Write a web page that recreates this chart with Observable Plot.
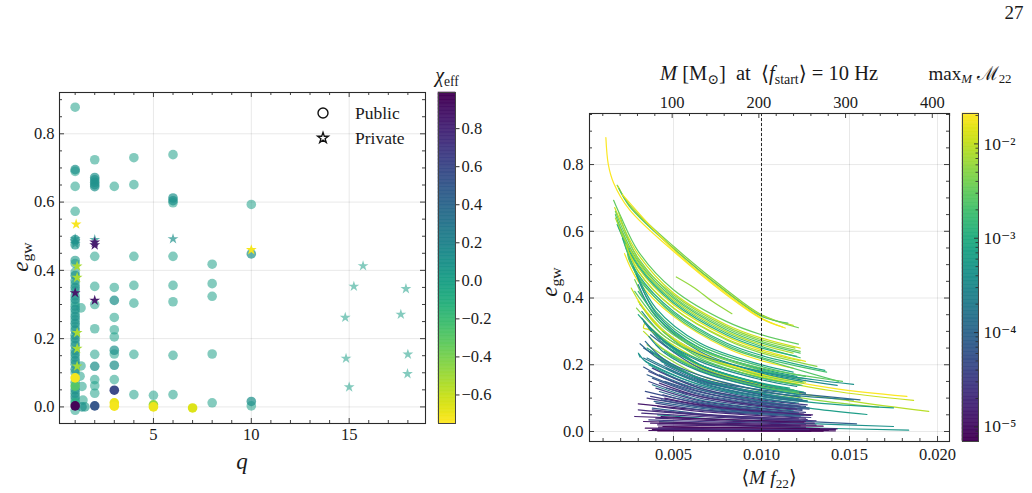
<!DOCTYPE html>
<html><head><meta charset="utf-8">
<script src="https://cdn.jsdelivr.net/npm/d3@7"></script>
<script src="https://cdn.jsdelivr.net/npm/@observablehq/plot@0.6"></script>
<style>
body{margin:0;background:#fff;}
#fig{position:relative;width:1032px;height:493px;overflow:hidden;font-family:"Liberation Serif","DejaVu Serif",serif;color:#1a1a1a;background:#fff;}
.abs{position:absolute;}
.pl svg text{font-family:"Liberation Serif","DejaVu Serif",serif !important;font-size:16.5px !important;}
.pl.big svg text{font-size:17.5px !important;}
.lbl{position:absolute;white-space:nowrap;line-height:1;transform:translate(-50%,-50%);}
.lbl sub{font-size:0.68em;vertical-align:-0.28em;line-height:0;}
</style></head><body><div id="fig"></div>
<script>
// ---------------- DATA: left panel (q, e_gw, chi_eff) ----------------
const publicQ   = [1,1,1,1,1,1,1,1,1,1,1,1,1,1,1,1,1,1,1,1,1,1,1,1,1,1,1,1,1,1,1,1,1,1,1,1,1,1,1,1,1,1,1,1,1,1,1,1.3,1.35,1.4,1.5,1.25,1.3,1.35,
  2,2,2,2,2,2,2,2,2,2,2,2,2,2,2,2,
  3,3,3,3,3,3,3,3,3,3,3,3,3,
  4,4,4,4,4,4,4,
  5,5,5,
  6,6,6,6,6,6,6,6,6,
  7,
  8,8,8,8,8,
  10,10,10,10];
const publicE   = [0.878,0.695,0.69,0.646,0.573,0.49,0.475,0.429,0.42,0.395,0.385,0.37,0.36,0.35,0.34,0.325,0.315,0.305,0.295,0.285,0.275,0.265,0.255,0.245,0.235,0.225,0.21,0.2,0.19,0.18,0.165,0.155,0.145,0.135,0.125,0.11,0.1,0.085,0.072,0.061,0.05,0.04,0.03,0.02,0.012,0.003,-0.01,0.29,0.06,0.02,0.0,0.09,0.12,0.0,
  0.724,0.672,0.665,0.658,0.651,0.645,0.441,0.353,0.30,0.229,0.154,0.119,0.08,0.062,0.04,0.003,
  0.646,0.35,0.312,0.262,0.226,0.205,0.166,0.155,0.122,0.08,0.049,0.012,0.002,
  0.73,0.651,0.441,0.356,0.304,0.154,0.036,
  0.034,0.0,0.006,
  0.739,0.612,0.604,0.598,0.441,0.356,0.308,0.151,0.036,
  -0.003,
  0.418,0.361,0.324,0.155,0.012,
  0.593,0.448,0.016,0.003];
const publicChi = [0,0.1,0,0,0,0.1,0.08,0.05,0,0,0.1,0.05,0,0.1,0,0.05,0.1,0,0.05,0.1,0,0.1,0.05,0.1,0,0.1,0.05,0.1,0,0.1,0.05,0.1,0,0.1,0.05,0.1,0,-0.72,0.05,-0.28,0.1,0.05,0.1,0,-0.1,0.97,0,0,0,0,0.05,0,0,0.1,
  0,0.1,0.1,0.1,0.1,0.1,0,0,0,0,0,0.12,0,0,0,0.52,
  0,0,0.12,0,0,0,0.1,0,0.12,0,0.6,-0.7,-0.72,
  0,0,0,0,0,0,0,
  0,-0.7,-0.45,
  0,0.1,0.1,0,0,0,0,0,0,
  -0.66,
  0,0,0,0,0,
  0,0.1,0.12,0];
const privateQ   = [1.05,1,1,1,1.1,1.1,1,1.1,1.1,1.1,2,2,2,2,6,10,15.71,15.24,17.9,14.8,17.64,14.84,18.0,17.98,15.0];
const privateE   = [0.535,0.492,0.485,0.478,0.412,0.379,0.334,0.217,0.171,0.119,0.49,0.482,0.474,0.312,0.492,0.46,0.413,0.353,0.346,0.262,0.271,0.142,0.154,0.097,0.058];
const privateChi = [-0.73,0.1,0.1,0.08,-0.52,-0.52,0.88,-0.52,-0.52,-0.5,0.1,0.85,0.85,0.87,0.1,-0.72,0,0,0,0,0,0,0,0,0];
const chiTicks = [-0.6,-0.4,-0.2,0,0.2,0.4,0.6,0.8];
const chiDomain = [-0.75, 0.99];

// ---------------- DATA: right panel (<M f22>, e_gw) tracks ----------------
const tracks = [
 [[0.00116,0.881],[0.0013,0.80],[0.0016,0.745],[0.0025,0.665],[0.005,0.54],[0.008,0.41],[0.01,0.338],[0.0112,0.313]],
 [[0.0018,0.738],[0.0025,0.68],[0.005,0.555],[0.008,0.425],[0.01,0.35],[0.0121,0.311]],
 [[0.00185,0.735],[0.0025,0.678],[0.005,0.55],[0.008,0.42],[0.01,0.348],[0.0118,0.318]],
 [[0.0019,0.728],[0.0025,0.675],[0.005,0.548],[0.008,0.418],[0.01,0.345],[0.0115,0.325]],
 [[0.0021,0.71],[0.005,0.545],[0.008,0.414],[0.01,0.34],[0.01135,0.31]],
 [[0.00516,0.463],[0.0062,0.43],[0.0072,0.39],[0.00832,0.353]],
 [[0.0016,0.693],[0.002,0.645],[0.003,0.54],[0.005,0.425],[0.008,0.33],[0.01,0.29],[0.0121,0.262]],
 [[0.00166,0.671],[0.002,0.63],[0.003,0.53],[0.005,0.415],[0.008,0.32],[0.01,0.28],[0.0122,0.25]],
 [[0.0017,0.66],[0.002,0.62],[0.003,0.52],[0.005,0.405],[0.008,0.31],[0.01,0.27],[0.0122,0.24]],
 [[0.0017,0.65],[0.002,0.61],[0.003,0.51],[0.005,0.4],[0.008,0.305],[0.01,0.265],[0.0122,0.235]],
 [[0.0018,0.63],[0.003,0.5],[0.005,0.39],[0.008,0.295],[0.01,0.255],[0.0122,0.221]],
 [[0.0017,0.64],[0.003,0.505],[0.005,0.395],[0.008,0.3],[0.01,0.26],[0.0118,0.235]],
 [[0.0019,0.61],[0.003,0.49],[0.005,0.38],[0.008,0.285],[0.01,0.245],[0.0125,0.21]],
 [[0.0018,0.62],[0.003,0.495],[0.005,0.385],[0.008,0.29],[0.01,0.25],[0.012,0.225]],
 [[0.002,0.6],[0.003,0.48],[0.005,0.37],[0.008,0.275],[0.01,0.235],[0.01315,0.195]],
 [[0.0021,0.58],[0.003,0.47],[0.005,0.36],[0.008,0.265],[0.01,0.228],[0.0136,0.183]],
 [[0.0019,0.655],[0.003,0.515],[0.005,0.41],[0.008,0.315],[0.01,0.275],[0.0119,0.25]],
 [[0.0022,0.57],[0.003,0.46],[0.005,0.355],[0.008,0.26],[0.01,0.222],[0.0137,0.178]],
 [[0.00222,0.533],[0.003,0.45],[0.005,0.345],[0.008,0.25],[0.01,0.212],[0.0118,0.19]],
 [[0.0025,0.548],[0.0024,0.53],[0.003,0.465],[0.005,0.35],[0.008,0.255],[0.01,0.218],[0.01438,0.15]],
 [[0.0023,0.56],[0.003,0.48],[0.005,0.37],[0.008,0.278],[0.01,0.24],[0.0122,0.212]],
 [[0.0027,0.495],[0.004,0.37],[0.0065,0.265],[0.01,0.2],[0.0118,0.178]],
 [[0.0028,0.48],[0.004,0.36],[0.0065,0.258],[0.01,0.195],[0.0125,0.165]],
 [[0.0029,0.47],[0.004,0.355],[0.0065,0.25],[0.01,0.188],[0.012,0.165]],
 [[0.0028,0.455],[0.004,0.345],[0.0065,0.245],[0.01,0.183],[0.0122,0.158]],
 [[0.003,0.44],[0.004,0.345],[0.0065,0.24],[0.01,0.178],[0.0143,0.138]],
 [[0.0026,0.43],[0.004,0.32],[0.0065,0.23],[0.01,0.172],[0.0125,0.148]],
 [[0.0031,0.381],[0.0045,0.3],[0.0065,0.235],[0.01,0.175],[0.0123,0.15]],
 [[0.0034,0.328],[0.0033,0.31],[0.0036,0.305],[0.0065,0.215],[0.01,0.163],[0.0121,0.142]],
 [[0.003,0.42],[0.0045,0.32],[0.0065,0.25],[0.01,0.185],[0.0125,0.158]],
 [[0.0029,0.40],[0.0045,0.3],[0.0065,0.235],[0.01,0.17],[0.014,0.13],[0.01826,0.105]],
 [[0.003,0.39],[0.0045,0.295],[0.0065,0.23],[0.01,0.165],[0.014,0.122],[0.01864,0.093]],
 [[0.0033,0.30],[0.0045,0.245],[0.0065,0.19],[0.01,0.135],[0.015,0.092],[0.0195,0.06]],
 [[0.0035,0.26],[0.0065,0.168],[0.01,0.122],[0.013,0.095],[0.01665,0.073]],
 [[0.0036,0.2],[0.0065,0.13],[0.01,0.092],[0.013,0.068],[0.01599,0.051]],
 [[0.0042,0.03],[0.008,0.02],[0.012,0.012],[0.01836,0.004]],
 [[0.0041,0.05],[0.008,0.035],[0.012,0.025],[0.0175,0.015]],
 [[0.0038,0.07],[0.008,0.045],[0.012,0.032],[0.0154,0.023]],
 [[0.0032,0.36],[0.0045,0.285],[0.0065,0.23],[0.01,0.18],[0.013,0.155],[0.01523,0.141]],
 [[0.0035,0.22],[0.0065,0.15],[0.01,0.118],[0.013,0.103],[0.01523,0.095]],
 [[0.0034,0.21],[0.0065,0.14],[0.01,0.105],[0.014,0.082],[0.0175,0.071]],
 [[0.0033,0.25],[0.0065,0.16],[0.01,0.125],[0.013,0.108],[0.0156,0.095]],
 [[0.0028,0.42],[0.0045,0.31],[0.0065,0.245],[0.01,0.19],[0.0146,0.15]],
 [[0.0033,0.33],[0.0045,0.26],[0.0065,0.2],[0.01,0.143],[0.012,0.122]],
 [[0.0035,0.32],[0.0065,0.2],[0.01,0.143],[0.0118,0.125]],
 [[0.0036,0.31],[0.0065,0.195],[0.01,0.14],[0.0125,0.115]],
 [[0.0038,0.30],[0.0065,0.195],[0.01,0.14],[0.0122,0.117]],
 [[0.004,0.29],[0.0065,0.2],[0.01,0.143],[0.012,0.122]],
 [[0.0042,0.28],[0.0065,0.2],[0.01,0.143],[0.0115,0.127]],
 [[0.0044,0.27],[0.0065,0.2],[0.01,0.143],[0.0124,0.118]],
 [[0.0031,0.263],[0.0045,0.205],[0.0065,0.16],[0.01,0.115],[0.0123,0.096]],
 [[0.0031,0.223],[0.003,0.235],[0.0033,0.215],[0.0045,0.18],[0.0065,0.14],[0.01,0.1],[0.0121,0.085]],
 [[0.0033,0.193],[0.0045,0.16],[0.0065,0.125],[0.01,0.09],[0.0125,0.075]],
 [[0.0035,0.17],[0.0065,0.113],[0.01,0.082],[0.0119,0.07]],
 [[0.0035,0.25],[0.0065,0.158],[0.01,0.113],[0.012,0.097]],
 [[0.0037,0.24],[0.0065,0.156],[0.01,0.112],[0.0122,0.095]],
 [[0.0039,0.23],[0.0065,0.158],[0.01,0.113],[0.0118,0.1]],
 [[0.0041,0.22],[0.0065,0.157],[0.01,0.112],[0.0126,0.092]],
 [[0.0043,0.21],[0.0065,0.158],[0.01,0.113],[0.0121,0.097]],
 [[0.0045,0.2],[0.0065,0.153],[0.01,0.11],[0.0124,0.092]],
 [[0.0036,0.15],[0.0065,0.1],[0.01,0.074],[0.0123,0.063]],
 [[0.0038,0.14],[0.0065,0.095],[0.01,0.07],[0.0118,0.062]],
 [[0.004,0.13],[0.0065,0.092],[0.01,0.068],[0.0125,0.057]],
 [[0.0042,0.12],[0.0065,0.088],[0.01,0.065],[0.0121,0.056]],
 [[0.0044,0.11],[0.0065,0.083],[0.01,0.062],[0.0124,0.052]],
 [[0.003,0.083],[0.0065,0.065],[0.01,0.054],[0.0128,0.048]],
 [[0.0028,0.045],[0.0065,0.038],[0.01,0.033],[0.0125,0.03]],
 [[0.0034,0.01],[0.0065,0.009],[0.01,0.007],[0.0142,0.006]],
 [[0.00415,0.013],[0.0065,0.012],[0.01,0.01],[0.0143,0.008]],
 [[0.0035,0.1],[0.0065,0.075],[0.01,0.057],[0.0122,0.05]],
 [[0.0038,0.065],[0.0065,0.052],[0.01,0.042],[0.0126,0.036]],
 [[0.004,0.04],[0.0065,0.034],[0.01,0.028],[0.013,0.025]],
 [[0.0042,0.025],[0.0065,0.022],[0.01,0.018],[0.0135,0.016]],
 [[0.0045,0.005],[0.0065,0.004],[0.01,0.003],[0.0142,0.002]],
 [[0.0036,0.035],[0.0065,0.03],[0.01,0.025],[0.0125,0.022]],
 [[0.0032,0.055],[0.0065,0.045],[0.01,0.037],[0.0122,0.033]],
 [[0.004,0.085],[0.0065,0.065],[0.01,0.05],[0.0128,0.042]],
 [[0.0043,0.095],[0.0065,0.074],[0.01,0.056],[0.0124,0.048]],
 [[0.0045,0.06],[0.0065,0.05],[0.01,0.039],[0.0131,0.032]],
 [[0.0036,0.003],[0.008,0.002],[0.0128,0.001]],
 [[0.0041,0.02],[0.008,0.017],[0.0125,0.013]],
 [[0.0038,0.006],[0.008,0.005],[0.0138,0.003]],
 [[0.0045,0.15],[0.0065,0.118],[0.01,0.085],[0.0127,0.07]],
 [[0.0045,0.24],[0.0065,0.183],[0.01,0.13],[0.0122,0.11]],
 [[0.0042,0.17],[0.0065,0.125],[0.01,0.09],[0.012,0.078]],
 [[0.0038,0.19],[0.0065,0.13],[0.01,0.095],[0.0126,0.08]],
 [[0.004,0.26],[0.0065,0.185],[0.01,0.133],[0.0121,0.115]],
 [[0.003,0.35],[0.0045,0.27],[0.0065,0.215],[0.01,0.16],[0.0122,0.138]],
 [[0.0032,0.34],[0.0045,0.27],[0.0065,0.21],[0.01,0.155],[0.012,0.135]],
 [[0.0029,0.37],[0.0045,0.285],[0.0065,0.225],[0.01,0.168],[0.0124,0.145]],
 [[0.0034,0.12],[0.0065,0.085],[0.01,0.063],[0.0121,0.055]],
 [[0.0037,0.105],[0.0065,0.078],[0.01,0.06],[0.0127,0.05]],
 [[0.0039,0.09],[0.0065,0.07],[0.01,0.053],[0.0122,0.046]],
 [[0.0041,0.075],[0.0065,0.06],[0.01,0.047],[0.0125,0.04]],
 [[0.0043,0.045],[0.0065,0.039],[0.01,0.032],[0.0124,0.028]],
 [[0.0044,0.015],[0.0065,0.013],[0.01,0.011],[0.0133,0.009]],
 [[0.004,0.008],[0.0065,0.007],[0.01,0.006],[0.0127,0.005]],
 [[0.0037,0.025],[0.0065,0.022],[0.01,0.019],[0.0122,0.017]],
 [[0.0046,0.13],[0.0065,0.105],[0.01,0.077],[0.0123,0.066]],
 [[0.0046,0.17],[0.0065,0.135],[0.01,0.098],[0.0119,0.086]],
 [[0.0046,0.19],[0.0065,0.148],[0.01,0.106],[0.0126,0.09]],
 [[0.0034,0.27],[0.0045,0.215],[0.0065,0.168],[0.01,0.122],[0.0122,0.104]],
 [[0.0036,0.285],[0.0045,0.235],[0.0065,0.18],[0.01,0.13],[0.0119,0.113]],
 [[0.0037,0.29],[0.0065,0.19],[0.01,0.137],[0.0125,0.115]],
 [[0.0033,0.22],[0.0065,0.145],[0.01,0.105],[0.0124,0.09]],
 [[0.0036,0.18],[0.0065,0.12],[0.01,0.087],[0.0122,0.075]],
 [[0.0038,0.16],[0.0065,0.11],[0.01,0.08],[0.0127,0.067]],
 [[0.0042,0.145],[0.0065,0.105],[0.01,0.077],[0.012,0.067]],
 [[0.0045,0.1],[0.0065,0.08],[0.01,0.06],[0.0129,0.05]],
 [[0.003,0.065],[0.0065,0.05],[0.01,0.042],[0.0121,0.038]],
 [[0.0033,0.03],[0.0065,0.026],[0.01,0.022],[0.0131,0.019]],
 [[0.0041,0.002],[0.008,0.0015],[0.0135,0.001]],
 [[0.0047,0.23],[0.0065,0.185],[0.01,0.135],[0.0121,0.118]],
 [[0.0047,0.25],[0.0065,0.2],[0.01,0.145],[0.0116,0.13]],
 [[0.0044,0.3],[0.0065,0.22],[0.01,0.16],[0.0123,0.138]]
];
const trackMismatch = [
 0.02,0.004,0.01,0.0025,0.018,0.006,
 0.003,0.012,0.004,0.0025,0.002,0.008,0.015,0.0012,0.005,0.0009,0.006,0.002,0.018,0.0025,0.01,
 0.0007,0.002,0.0004,0.004,0.0003,0.01,0.0005,0.012,0.0015,
 0.02,0.011,0.009,0.006,0.0006,0.0005,0.0004,0.00008,0.0004,0.0002,0.0006,0.0001,0.003,
 0.0002,0.003,0.0006,0.008,0.0015,0.0003,0.001,0.0001,0.0004,0.00006,0.00008,0.0008,0.0002,0.002,0.00015,0.0004,0.0001,
 0.00004,0.0002,0.00003,0.0001,0.00002,0.000012,0.000015,0.00001,0.000012,0.000025,0.00002,0.000015,0.000008,0.00001,0.00003,0.00002,0.00004,0.00006,0.000025,
 0.00001,0.000015,0.000009,0.00007,0.0005,0.00012,0.00003,0.004,
 0.0009,0.0003,0.005,
 0.00005,0.00003,0.00009,0.000018,0.00001,0.000008,0.00002,0.000012,0.00005,0.0001,0.00025,
 0.00012,0.0003,0.0001,0.00015,0.00004,0.00006,0.00002,0.000015,0.00002,0.000012,0.000007,
 0.002,0.0007,0.0025
];
const m22Domain = [7e-6, 0.021];
const m22Ticks = [1e-5, 1e-4, 1e-3, 1e-2];
const massTicks = [100, 200, 300, 400];           // top axis, M in solar masses
const fStart = 10;                                 // Hz
const dashedX = [0.01];

// ---------------- helpers ----------------
const FONT = "'Liberation Serif', 'DejaVu Serif', serif";
const MSUN_S = 4.925491e-6;                        // G Msun / c^3 in s
const fig = document.getElementById("fig");
function place(el, left, top, big) {
  const d = document.createElement("div");
  d.className = "abs pl" + (big ? " big" : ""); d.style.left = left + "px"; d.style.top = top + "px";
  d.appendChild(el); fig.appendChild(d);
}
function label(html, cx, cy, size, extra) {
  const d = document.createElement("div");
  d.className = "lbl"; d.innerHTML = html;
  d.style.left = cx + "px"; d.style.top = cy + "px"; d.style.fontSize = size + "px";
  if (extra) d.style.transform = extra;
  fig.appendChild(d);
}
const TK = "#2a2a2a";
function inTicks(vals, side, len, fw, fh) {
  const o = {stroke: TK, strokeWidth: 0.9};
  if (side === "bottom") return Plot.ruleX(vals, {...o, insetTop: fh - len});
  if (side === "top") return Plot.ruleX(vals, {...o, insetBottom: fh - len});
  if (side === "left") return Plot.ruleY(vals, {...o, insetRight: fw - len});
  return Plot.ruleY(vals, {...o, insetLeft: fw - len});
}
const txt = {label: null, fill: "#1a1a1a"};
const f1 = d3.format(".1f");
const baseStyle = "font-family:" + FONT + ";font-size:16.5px;background:transparent;color:#1a1a1a;overflow:visible;max-width:none;";

// ---------------- left panel ----------------
const pub = publicQ.map((q, i) => ({q, e: publicE[i], chi: publicChi[i]}));
const pri = privateQ.map((q, i) => ({q, e: privateE[i], chi: privateChi[i]}));
const opac = d => Math.min(1, 0.55 + 1.5 * Math.abs(d.chi));
const LW = 440, LH = 493, LM = {l: 59, r: 15, t: 92, b: 70};
const lfw = LW - LM.l - LM.r, lfh = LH - LM.t - LM.b;
const qMajor = [5, 10, 15], qMinor = d3.range(1, 19).filter(v => v % 5);
const eMajor = [0, 0.2, 0.4, 0.6, 0.8];
const eMinorL = d3.range(0, 19).map(i => i * 0.05).filter((v, i) => i % 4);
const leftPlot = Plot.plot({
  width: LW, height: LH, marginLeft: LM.l, marginRight: LM.r, marginTop: LM.t, marginBottom: LM.b,
  style: baseStyle,
  x: {domain: [0.2, 18.9], axis: null},
  y: {domain: [-0.0486, 0.921], axis: null},
  color: {type: "linear", scheme: "viridis", reverse: true, domain: chiDomain},
  marks: [
    Plot.gridX(qMajor, {stroke: "#000", strokeOpacity: 0.09}),
    Plot.gridY(eMajor, {stroke: "#000", strokeOpacity: 0.09}),
    Plot.dot(pub, {x: "q", y: "e", fill: "chi", fillOpacity: opac, r: 4.8, symbol: "circle", sort: d => Math.abs(d.chi)}),
    Plot.dot(pri, {x: "q", y: "e", fill: "chi", fillOpacity: opac, r: 3.4, symbol: "star", sort: d => Math.abs(d.chi)}),
    inTicks(qMajor, "bottom", 5, lfw, lfh), inTicks(qMinor, "bottom", 3, lfw, lfh),
    inTicks(qMajor, "top", 5, lfw, lfh), inTicks(qMinor, "top", 3, lfw, lfh),
    inTicks(eMajor, "left", 5, lfw, lfh), inTicks(eMinorL, "left", 3, lfw, lfh),
    inTicks(eMajor, "right", 5, lfw, lfh), inTicks(eMinorL, "right", 3, lfw, lfh),
    Plot.frame({stroke: "#2a2a2a", strokeWidth: 1.1}),
    Plot.axisX(qMajor, {...txt, anchor: "bottom", tickSize: 0, tickPadding: 5, tickFormat: d => String(d)}),
    Plot.axisY(eMajor, {...txt, anchor: "left", tickSize: 0, tickPadding: 5, tickFormat: f1})
  ]
});
place(leftPlot, 0, 0);

// left colorbar
const chiSlices = d3.range(240).map(i => {
  const a = chiDomain[0] + (chiDomain[1] - chiDomain[0]) * i / 240;
  const b = chiDomain[0] + (chiDomain[1] - chiDomain[0]) * (i + 1) / 240;
  return {a, b, m: (a + b) / 2};
});
const cbL = Plot.plot({
  width: 80, height: 493, marginLeft: 8, marginRight: 55, marginTop: 92, marginBottom: 70,
  style: baseStyle,
  y: {domain: chiDomain, axis: null},
  color: {type: "linear", scheme: "viridis", reverse: true, domain: chiDomain},
  marks: [
    Plot.rect(chiSlices, {y1: "a", y2: "b", fill: "m", stroke: "m", strokeWidth: 0.6}),
    Plot.frame({stroke: "#444", strokeWidth: 1}),
    Plot.axisY(chiTicks, {...txt, anchor: "right", tickSize: 3.5, tickPadding: 2.5, tickFormat: f1, stroke: TK})
  ]
});
place(cbL, 430, 0);

// ---------------- right panel ----------------
const rows = [];
tracks.forEach((pts, i) => pts.forEach(([x, e]) => rows.push({id: i, x, e, m: trackMismatch[i]})));
const RW = 440, RH = 493, RM = {l: 69, r: 11, t: 113, b: 52};
const rfw = RW - RM.l - RM.r, rfh = RH - RM.t - RM.b;
const xMajorR = [0.005, 0.01, 0.015, 0.02];
const xMinorR = d3.range(1, 21).filter(i => i % 5).map(i => i / 1000);
const mToX = m => m * MSUN_S * fStart;
const topMajor = massTicks.map(mToX);
const topMinor = d3.range(1, 22).filter(i => i % 5).map(i => mToX(i * 20));
const eMinorR = d3.range(0, 20).map(i => i * 0.05).filter((v, i) => i % 4);
const rightPlot = Plot.plot({
  width: RW, height: RH, marginLeft: RM.l, marginRight: RM.r, marginTop: RM.t, marginBottom: RM.b,
  style: baseStyle,
  x: {domain: [0.00023, 0.02068], axis: null},
  y: {domain: [-0.03, 0.953], axis: null},
  color: {type: "log", scheme: "viridis", domain: m22Domain},
  marks: [
    Plot.gridX(xMajorR, {stroke: "#000", strokeOpacity: 0.09}),
    Plot.gridY(eMajor, {stroke: "#000", strokeOpacity: 0.09}),
    Plot.line(rows, {x: "x", y: "e", z: "id", stroke: "m", strokeWidth: 1.2, curve: "catmull-rom"}),
    Plot.ruleX(dashedX, {stroke: "#111", strokeWidth: 0.9, strokeDasharray: "3,2"}),
    inTicks(xMajorR, "bottom", 5, rfw, rfh), inTicks(xMinorR, "bottom", 3, rfw, rfh),
    inTicks(topMajor, "top", 5, rfw, rfh), inTicks(topMinor, "top", 3, rfw, rfh),
    inTicks(eMajor, "left", 5, rfw, rfh), inTicks(eMinorR, "left", 3, rfw, rfh),
    inTicks(eMajor, "right", 5, rfw, rfh), inTicks(eMinorR, "right", 3, rfw, rfh),
    Plot.frame({stroke: "#2a2a2a", strokeWidth: 1.1}),
    Plot.axisX(xMajorR, {...txt, anchor: "bottom", tickSize: 0, tickPadding: 7, tickFormat: d3.format(".3f")}),
    Plot.axisX(topMajor, {...txt, anchor: "top", tickSize: 0, tickPadding: 6, tickFormat: v => String(Math.round(v / (MSUN_S * fStart)))}),
    Plot.axisY(eMajor, {...txt, anchor: "left", tickSize: 0, tickPadding: 6, tickFormat: f1})
  ]
});
place(rightPlot, 520, 0);

// right colorbar (log)
const lg0 = Math.log10(m22Domain[0]), lg1 = Math.log10(m22Domain[1]);
const mSlices = d3.range(240).map(i => {
  const a = Math.pow(10, lg0 + (lg1 - lg0) * i / 240);
  const b = Math.pow(10, lg0 + (lg1 - lg0) * (i + 1) / 240);
  return {a, b, m: Math.sqrt(a * b)};
});
const sup = {"-": "\u207B", "0": "\u2070", "1": "\u00B9", "2": "\u00B2", "3": "\u00B3", "4": "\u2074", "5": "\u2075", "6": "\u2076", "7": "\u2077", "8": "\u2078", "9": "\u2079"};
const powFmt = v => "10" + String(Math.round(Math.log10(v))).split("").map(c => sup[c]).join("");
const mMinor = [];
[-6, -5, -4, -3, -2].forEach(k => d3.range(2, 10).forEach(j => { const v = j * Math.pow(10, k); if (v > m22Domain[0] && v < m22Domain[1]) mMinor.push(v); }));
const CBW = 16;
const cbR = Plot.plot({
  width: 77, height: 493, marginLeft: 7, marginRight: 54, marginTop: 113, marginBottom: 52,
  style: baseStyle,
  y: {type: "log", domain: m22Domain, axis: null},
  color: {type: "log", scheme: "viridis", domain: m22Domain},
  marks: [
    Plot.rect(mSlices, {y1: "a", y2: "b", fill: "m", stroke: "m", strokeWidth: 0.6}),
    Plot.ruleY(mMinor, {stroke: TK, strokeWidth: 0.8, insetLeft: CBW - 2.5}),
    Plot.ruleY(m22Ticks, {stroke: TK, strokeWidth: 0.9, insetLeft: CBW - 4}),
    Plot.frame({stroke: "#444", strokeWidth: 1}),
    Plot.axisY(m22Ticks, {...txt, anchor: "right", tickSize: 0, tickPadding: 5, tickFormat: powFmt})
  ]
});
place(cbR, 955, 0, true);

// ---------------- text labels ----------------
label("27", 1014, 12, 19);
label("<i>χ</i><sub>eff</sub>", 447, 75, 20);
label("<i>e</i><sub>gw</sub>", 20, 257, 23, "translate(-50%,-50%) rotate(-90deg)");
label("<i>q</i>", 242, 461, 23);
label("<i>e</i><sub>gw</sub>", 549, 282, 23, "translate(-50%,-50%) rotate(-90deg)");
label("⟨<i>M f</i><sub>22</sub>⟩", 769, 478, 19.5);
label("<i>M</i> [M<sub>⊙</sub>] &nbsp;at&nbsp; ⟨<i>f</i><sub>start</sub>⟩ = 10 Hz", 769, 73, 20.5);
label("max<sub><i>M</i></sub> ℳ<sub>22</sub>", 970, 73, 19);

// legend (left panel)
const leg = document.createElement("div");
leg.innerHTML = `<svg width="120" height="50" style="overflow:visible">
  <circle cx="8" cy="8" r="5" fill="none" stroke="#111" stroke-width="1.4"/>
  <path d="${d3.symbol(d3.symbolStar, Math.PI * 3.4 * 3.4)()}" transform="translate(8,33)" fill="none" stroke="#111" stroke-width="1.3"/>
  <text x="40" y="14" font-size="17.5" font-family="${FONT}" fill="#1a1a1a">Public</text>
  <text x="40" y="39" font-size="17.5" font-family="${FONT}" fill="#1a1a1a">Private</text>
</svg>`;
leg.className = "abs"; leg.style.left = "315px"; leg.style.top = "105px";
fig.appendChild(leg);
</script></body></html>
